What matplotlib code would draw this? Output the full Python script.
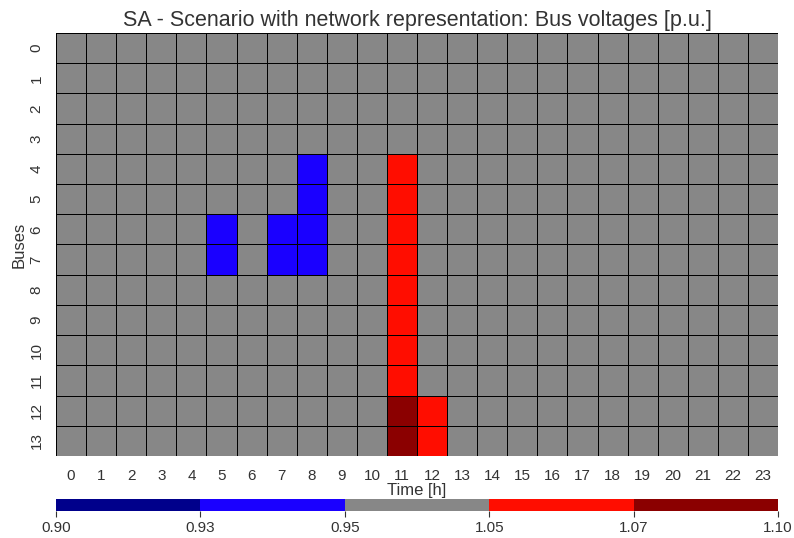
import numpy as np
import matplotlib
matplotlib.use("Agg")
import matplotlib.pyplot as plt
from matplotlib.colors import ListedColormap, BoundaryNorm
import seaborn as sns

# bus voltages [p.u.], rows = buses 0..13, cols = hours 0..23
hours = list(range(24))
buses = list(range(14))
v_bus = [
    [1.00] * 24,
    [1.00] * 24,
    [1.00] * 24,
    [1.00] * 24,
    [1.00] * 8 + [0.94] + [1.00] * 2 + [1.06] + [1.00] * 12,
    [1.00] * 8 + [0.94] + [1.00] * 2 + [1.06] + [1.00] * 12,
    [1.00] * 5 + [0.94, 1.00, 0.94, 0.94] + [1.00] * 2 + [1.06] + [1.00] * 12,
    [1.00] * 5 + [0.94, 1.00, 0.94, 0.94] + [1.00] * 2 + [1.06] + [1.00] * 12,
    [1.00] * 11 + [1.06] + [1.00] * 12,
    [1.00] * 11 + [1.06] + [1.00] * 12,
    [1.00] * 11 + [1.06] + [1.00] * 12,
    [1.00] * 11 + [1.06] + [1.00] * 12,
    [1.00] * 11 + [1.08, 1.06] + [1.00] * 11,
    [1.00] * 11 + [1.08, 1.06] + [1.00] * 11,
]

bounds = [0.90, 0.93, 0.95, 1.05, 1.07, 1.10]
band_colors = ["#00008B", "#1A00FF", "#878787", "#FF0D00", "#8B0000"]

sns.set_style("white")
plt.rcParams["font.family"] = ["Liberation Sans", "DejaVu Sans"]

cmap = ListedColormap(band_colors)
norm = BoundaryNorm(bounds, cmap.N)

fig = plt.figure(figsize=(7.94, 5.38), dpi=100)
ax = fig.add_axes([0.0705, 0.1524, 0.9095, 0.7863])
cax = fig.add_axes([0.0705, 0.0502, 0.9095, 0.0223])

sns.heatmap(np.array(v_bus), ax=ax, cmap=cmap, norm=norm,
            linewidths=0.5, linecolor="black",
            xticklabels=hours, yticklabels=buses,
            cbar_ax=cax, cbar_kws={"orientation": "horizontal",
                                   "ticks": bounds, "format": "%.2f"})

ax.set_title("SA - Scenario with network representation: Bus voltages [p.u.]",
             fontsize=15.5, color="#333333", pad=5)
ax.set_xlabel("Time [h]", fontsize=12, color="#333333", labelpad=0)
ax.set_ylabel("Buses", fontsize=12, color="#333333", labelpad=2)
ax.tick_params(axis="both", labelsize=11, colors="#333333", length=0)
ax.tick_params(axis="x", pad=9)
ax.tick_params(axis="y", pad=9)
plt.setp(ax.get_yticklabels(), rotation=90, va="center")
plt.setp(ax.get_xticklabels(), rotation=0)

cax.tick_params(labelsize=11, colors="#333333", length=4, width=0.8,
                bottom=True, direction="out")
for sp in cax.spines.values():
    sp.set_visible(False)

fig.savefig("out.png", dpi=100)
